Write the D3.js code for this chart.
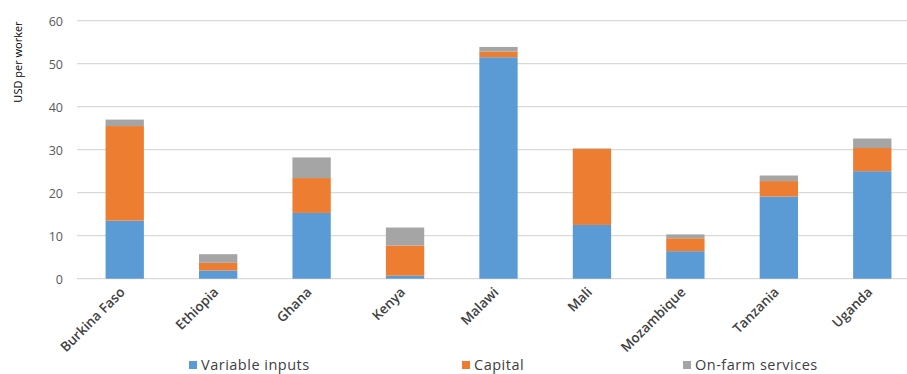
<!DOCTYPE html>
<html>
<head>
<meta charset="utf-8">
<script src="https://cdn.jsdelivr.net/npm/d3@7"></script>
<style>
  html, body { margin: 0; padding: 0; background: #fff; }
  svg { display: block; }
</style>
</head>
<body>
<svg id="chart" width="907" height="374"></svg>
<script>
const categories = ["Burkina Faso","Ethiopia","Ghana","Kenya","Malawi","Mali","Mozambique","Tanzania","Uganda"];
const variableInputs = [13.5, 1.9, 15.3, 0.7, 51.5, 12.5, 6.4, 19.1, 25.0];
const capital        = [22.0, 1.8, 8.1, 7.0, 1.3, 17.7, 3.0, 3.6, 5.4];
const onFarmServices = [1.5, 2.0, 4.8, 4.2, 1.1, 0.1, 0.9, 1.3, 2.2];
const seriesNames = ["Variable inputs", "Capital", "On-farm services"];
const seriesColors = ["#5b9bd5", "#ed7d31", "#a5a5a5"];
const yTicks = [0, 10, 20, 30, 40, 50, 60];
const yTitle = "USD per worker";

const svg = d3.select("#chart");
const fontFam = "'Open Sans', 'DejaVu Sans', sans-serif";

const x = d3.scaleBand().domain(categories).range([78, 919]).paddingInner(0.59).paddingOuter(0.295);
const y = d3.scaleLinear().domain([0, 60]).range([278.7, 20.7]);

const rows = categories.map((c, i) => ({
  cat: c,
  "Variable inputs": variableInputs[i],
  "Capital": capital[i],
  "On-farm services": onFarmServices[i]
}));
const stacked = d3.stack().keys(seriesNames)(rows);

// gridlines
svg.append("g")
  .selectAll("line")
  .data(yTicks)
  .join("line")
  .attr("x1", 77).attr("x2", 907)
  .attr("y1", d => y(d)).attr("y2", d => y(d))
  .attr("stroke", "#d9d9d9").attr("stroke-width", 1.3);

// y axis labels
const yAxis = d3.axisLeft(y).tickValues(yTicks).tickSize(0).tickPadding(0);
const yg = svg.append("g").attr("transform", "translate(63,0)").call(yAxis);
yg.select(".domain").remove();
yg.selectAll("text")
  .attr("fill", "#595959")
  .style("font-family", fontFam)
  .style("font-size", "12.5px")
  .attr("dy", "0.35em");

// bars
svg.append("g")
  .selectAll("g")
  .data(stacked)
  .join("g")
  .attr("fill", (d, i) => seriesColors[i])
  .selectAll("rect")
  .data(d => d)
  .join("rect")
  .attr("x", d => x(d.data.cat))
  .attr("width", x.bandwidth())
  .attr("y", d => y(d[1]))
  .attr("height", d => Math.max(0, y(d[0]) - y(d[1])));

// x axis labels
const xAxis = d3.axisBottom(x).tickSize(0).tickPadding(0);
const xg = svg.append("g").attr("transform", "translate(0,279)").call(xAxis);
xg.select(".domain").remove();
xg.selectAll("text")
  .attr("fill", "#404040")
  .style("font-family", fontFam)
  .style("font-size", "13.5px")
  .style("font-weight", "600")
  .attr("text-anchor", "end")
  .attr("dy", 0)
  .attr("transform", "translate(1,14) rotate(-45)");

// y title
svg.append("text")
  .attr("transform", "translate(22,62) rotate(-90)")
  .attr("text-anchor", "middle")
  .style("font-family", fontFam)
  .style("font-size", "11px")
  .attr("fill", "#000")
  .text(yTitle);

// legend
const legendX = [189, 462, 683];
const lg = svg.append("g")
  .selectAll("g")
  .data(seriesNames)
  .join("g")
  .attr("transform", (d, i) => `translate(${legendX[i]},360)`);
lg.append("rect").attr("width", 8).attr("height", 8).attr("y", 1)
  .attr("fill", (d, i) => seriesColors[i]);
lg.append("text").attr("x", 12).attr("y", 10)
  .style("font-family", fontFam)
  .style("font-size", "14.5px")
  .style("letter-spacing", "0.5px")
  .attr("fill", "#404040")
  .text(d => d);
</script>
</body>
</html>
